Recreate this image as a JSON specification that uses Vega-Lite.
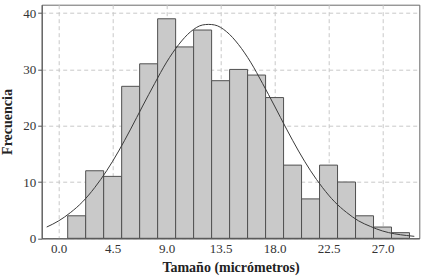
{
  "$schema": "https://vega.github.io/schema/vega-lite/v6.json",
  "autosize": {"type": "none"},
  "width": 377.6,
  "height": 233.6,
  "padding": {"left": 41.7, "top": 4.7, "right": 3.7, "bottom": 40.7},
  "background": "white",
  "config": {
    "view": {"stroke": "#6a6a6a", "strokeWidth": 1},
    "font": "Liberation Serif",
    "axis": {
      "labelFont": "Liberation Serif",
      "titleFont": "Liberation Serif",
      "labelColor": "#333333",
      "titleColor": "#222222",
      "labelFontSize": 13,
      "titleFontSize": 14,
      "titleFontWeight": "bold",
      "domainColor": "#555555",
      "gridColor": "#c8c8c8",
      "gridDash": [4, 3],
      "gridWidth": 1
    }
  },
  "datasets": {
    "bins": [
      {"start": 0.75, "end": 2.25, "count": 4},
      {"start": 2.25, "end": 3.75, "count": 12},
      {"start": 3.75, "end": 5.25, "count": 11},
      {"start": 5.25, "end": 6.75, "count": 27},
      {"start": 6.75, "end": 8.25, "count": 31},
      {"start": 8.25, "end": 9.75, "count": 39},
      {"start": 9.75, "end": 11.25, "count": 34},
      {"start": 11.25, "end": 12.75, "count": 37},
      {"start": 12.75, "end": 14.25, "count": 28},
      {"start": 14.25, "end": 15.75, "count": 30},
      {"start": 15.75, "end": 17.25, "count": 29},
      {"start": 17.25, "end": 18.75, "count": 25},
      {"start": 18.75, "end": 20.25, "count": 13},
      {"start": 20.25, "end": 21.75, "count": 7},
      {"start": 21.75, "end": 23.25, "count": 13},
      {"start": 23.25, "end": 24.75, "count": 10},
      {"start": 24.75, "end": 26.25, "count": 4},
      {"start": 26.25, "end": 27.75, "count": 2},
      {"start": 27.75, "end": 29.25, "count": 1}
    ],
    "curve": [
      {"x": -1, "y": 2.0},
      {"x": 0, "y": 3.1},
      {"x": 1, "y": 4.6},
      {"x": 2, "y": 6.5},
      {"x": 3, "y": 9.0},
      {"x": 4, "y": 12.0},
      {"x": 5, "y": 15.5},
      {"x": 6, "y": 19.4},
      {"x": 7, "y": 23.5},
      {"x": 8, "y": 27.5},
      {"x": 9, "y": 31.3},
      {"x": 10, "y": 34.4},
      {"x": 11, "y": 36.7},
      {"x": 12, "y": 37.9},
      {"x": 12.5, "y": 38.0},
      {"x": 13, "y": 37.9},
      {"x": 14, "y": 36.7},
      {"x": 15, "y": 34.4},
      {"x": 16, "y": 31.3},
      {"x": 17, "y": 27.5},
      {"x": 18, "y": 23.5},
      {"x": 19, "y": 19.4},
      {"x": 20, "y": 15.5},
      {"x": 21, "y": 12.0},
      {"x": 22, "y": 9.0},
      {"x": 23, "y": 6.5},
      {"x": 24, "y": 4.6},
      {"x": 25, "y": 3.1},
      {"x": 26, "y": 2.1},
      {"x": 27, "y": 1.3},
      {"x": 28, "y": 0.8},
      {"x": 29, "y": 0.5},
      {"x": 29.65, "y": 0.35}
    ]
  },
  "layer": [
    {
      "data": {"name": "bins"},
      "mark": {"type": "bar", "fill": "#c9c9c9", "stroke": "#505050", "strokeWidth": 1, "orient": "vertical"},
      "encoding": {
        "x": {
          "field": "start",
          "type": "quantitative",
          "scale": {"domain": [-1, 29.65], "nice": false, "zero": false},
          "axis": {
            "title": "Tamaño (micrómetros)",
            "values": [0, 2.25, 4.5, 6.75, 9, 11.25, 13.5, 15.75, 18, 20.25, 22.5, 24.75, 27, 29.25],
            "labelExpr": "(round(datum.value * 100) % 450 === 0) ? format(datum.value, '.1f') : ''",
            "labelFont": "Liberation Serif",
            "labelFontSize": 13,
            "labelFlush": false,
            "labelOverlap": false,
            "ticks": false,
            "labelPadding": 4,
            "titlePadding": 5,
            "grid": true
          }
        },
        "x2": {"field": "end"},
        "y": {
          "field": "count",
          "type": "quantitative",
          "scale": {"domain": [0, 41.5], "nice": false},
          "axis": {
            "title": "Frecuencia",
            "values": [0, 5, 10, 15, 20, 25, 30, 35, 40],
            "labelExpr": "(datum.value % 10 === 0) ? datum.label : ''",
            "labelFont": "Liberation Serif",
            "labelFontSize": 13,
            "labelFlush": false,
            "labelOverlap": false,
            "tickSize": 4,
            "tickColor": "#555555",
            "tickOpacity": {"condition": {"test": "datum.value % 10 === 0", "value": 1}, "value": 0},
            "labelPadding": 2,
            "titlePadding": 8,
            "grid": true
          }
        },
        "y2": {"datum": 0}
      }
    },
    {
      "data": {"name": "curve"},
      "mark": {"type": "line", "color": "#3a3a3a", "strokeWidth": 1, "interpolate": "monotone", "clip": true},
      "encoding": {
        "x": {"field": "x", "type": "quantitative"},
        "y": {"field": "y", "type": "quantitative"}
      }
    }
  ]
}
